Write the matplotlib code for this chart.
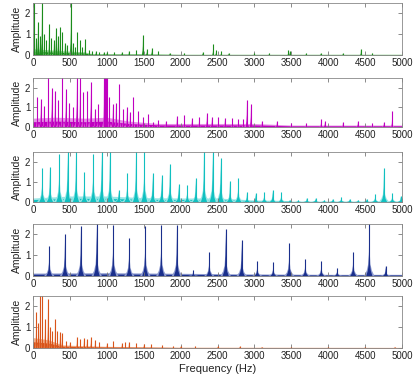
import numpy as np
import matplotlib
matplotlib.use("Agg")
import matplotlib.pyplot as plt

plt.rcParams['font.family'] = ['Liberation Sans', 'DejaVu Sans']

# ---------------- data ----------------
freq_ticks = [0, 500, 1000, 1500, 2000, 2500, 3000, 3500, 4000, 4500, 5000]
amp_ticks = [0, 1, 2]

green_peak_f = [20, 40, 63, 90, 117, 150, 180, 217, 250, 280, 310, 335, 366, 395, 430, 460, 510, 540, 570, 600,
                640, 670, 705, 760, 800, 850, 900, 960, 1000, 1100, 1200, 1300, 1400, 1486, 1540, 1608, 1700,
                1850, 2050, 2300, 2440, 2480, 2550, 2650, 3000, 3200, 3460, 3480, 3700, 3900, 4200, 4444, 4600]
green_peak_a = [2.6, 0.8, 1.6, 0.9, 2.6, 1.0, 0.7, 1.5, 0.8, 0.7, 1.3, 0.9, 1.35, 1.1, 0.6, 0.5, 2.6, 0.6, 0.4, 1.1,
                0.7, 0.4, 0.75, 0.25, 0.2, 0.2, 0.15, 0.15, 0.15, 0.15, 0.15, 0.2, 0.25, 0.95, 0.3, 0.35, 0.2,
                0.12, 0.12, 0.15, 0.55, 0.25, 0.2, 0.12, 0.12, 0.1, 0.25, 0.2, 0.08, 0.1, 0.08, 0.3, 0.12]
green_floor_f = [0, 200, 400, 700, 800, 1500, 2000, 3000, 5000]
green_floor_a = [0.3, 0.25, 0.2, 0.15, 0.06, 0.06, 0.04, 0.04, 0.04]

magenta_peak_f = [59, 104, 149, 208, 253, 298, 343, 397, 442, 488, 546, 591, 637, 682, 736, 781, 840, 885,
                  962, 975, 988, 998, 1034, 1079, 1124, 1169, 1223, 1268, 1314, 1359, 1427, 1495, 1562, 1630,
                  1700, 1800, 1950, 2050, 2150, 2250, 2353, 2420, 2510, 2600, 2700, 2780, 2850, 2895, 2950,
                  3100, 3300, 3500, 3700, 3903, 3950, 4200, 4400, 4600, 4750, 4866]
magenta_peak_a = [1.55, 1.45, 1.05, 2.6, 2.0, 1.85, 1.4, 2.6, 1.95, 1.2, 1.0, 2.6, 2.6, 1.8, 1.85, 2.3, 0.9, 1.15,
                  2.6, 2.6, 2.6, 2.6, 1.55, 1.15, 1.2, 2.2, 0.9, 1.0, 0.75, 1.55, 0.8, 0.5, 0.65, 0.25,
                  0.35, 0.3, 0.55, 0.6, 0.45, 0.5, 0.7, 0.5, 0.5, 0.45, 0.45, 0.4, 0.4, 1.4, 1.15,
                  0.3, 0.3, 0.2, 0.2, 0.4, 0.3, 0.25, 0.3, 0.2, 0.25, 0.8]
magenta_floor_f = [0, 300, 700, 1000, 1300, 1700, 2500, 3000, 3500, 5000]
magenta_floor_a = [0.45, 0.5, 0.45, 0.5, 0.3, 0.18, 0.18, 0.18, 0.1, 0.1]

cyan_peak_f = [126, 230, 357, 470, 583, 696, 817, 931, 1043, 1160, 1278, 1396, 1509, 1622, 1744, 1856, 1974,
               2091, 2205, 2317, 2435, 2543, 2669, 2782, 2900, 3018, 3134, 3248, 3365, 3480, 3595, 3711, 3828,
               3945, 4061, 4177, 4290, 4405, 4520, 4638, 4756, 4870, 4984]
cyan_peak_a = [1.7, 1.75, 2.4, 2.6, 2.6, 1.5, 2.4, 2.6, 2.6, 0.6, 1.45, 2.6, 2.6, 1.45, 1.35, 1.9, 0.9,
               0.85, 1.2, 2.6, 2.6, 2.2, 1.05, 1.2, 0.5, 0.45, 0.5, 0.6, 0.5, 0.1, 0.1, 0.2, 0.2,
               0.1, 0.15, 0.25, 0.15, 0.1, 0.15, 0.4, 1.7, 0.45, 0.3]
cyan_floor_f = [0, 500, 1000, 1500, 2000, 2500, 3000, 3400, 3500, 5000]
cyan_floor_a = [0.2, 0.3, 0.3, 0.22, 0.2, 0.2, 0.1, 0.08, 0.04, 0.04]

navy_peak_f = [221, 434, 650, 863, 1088, 1305, 1522, 1739, 1951, 2172, 2389, 2611, 2828, 3040, 3256, 3473, 3690,
               3907, 4123, 4340, 4557, 4779]
navy_peak_a = [1.45, 2.04, 2.4, 2.6, 2.45, 1.85, 2.4, 2.45, 2.45, 0.3, 1.13, 2.28, 1.73, 0.7, 0.65, 1.6, 0.82,
               0.7, 0.4, 1.17, 2.6, 0.5]
navy_floor_f = [0, 1000, 2000, 3000, 4000, 5000]
navy_floor_a = [0.14, 0.16, 0.13, 0.1, 0.08, 0.08]

orange_peak_f = [41, 70, 95, 126, 160, 199, 230, 260, 298, 330, 360, 389, 450, 500, 592, 640, 690, 730, 782,
                 840, 900, 1000, 1088, 1200, 1250, 1300, 1400, 1500, 1600, 1750, 1900, 2000, 2200, 2500, 2800,
                 3100, 3500, 4000, 4500, 4900]
orange_peak_a = [1.75, 1.2, 2.6, 2.6, 1.4, 2.35, 1.0, 0.8, 1.4, 0.8, 0.75, 0.7, 0.35, 0.3, 0.55, 0.45, 0.5, 0.45, 0.55,
                 0.4, 0.3, 0.25, 0.35, 0.25, 0.28, 0.3, 0.22, 0.2, 0.18, 0.15, 0.12, 0.12, 0.1, 0.08, 0.08,
                 0.06, 0.06, 0.06, 0.06, 0.06]
orange_floor_f = [0, 200, 400, 600, 1000, 1500, 2000, 5000]
orange_floor_a = [0.5, 0.4, 0.15, 0.12, 0.08, 0.06, 0.04, 0.03]

panels = [
    (green_peak_f, green_peak_a, green_floor_f, green_floor_a, '#1c8c1c', '#94d494', 16),
    (magenta_peak_f, magenta_peak_a, magenta_floor_f, magenta_floor_a, '#c000c0', '#e590e5', 22),
    (cyan_peak_f, cyan_peak_a, cyan_floor_f, cyan_floor_a, '#10c0c0', '#98e6e6', 70),
    (navy_peak_f, navy_peak_a, navy_floor_f, navy_floor_a, '#1a2f8c', '#8e9bd0', 70),
    (orange_peak_f, orange_peak_a, orange_floor_f, orange_floor_a, '#d9541a', '#f2ad88', 12),
]

# peak outline (relative offsets / relative heights) - styling only
shape_dx = np.array([-1, -0.5, -0.22, -0.08, -0.02, 0, 0.02, 0.08, 0.22, 0.5, 1])
shape_dy = np.array([0, 0.1, 0.22, 0.45, 0.8, 1, 0.8, 0.45, 0.22, 0.1, 0])

tops = [3, 78, 152, 224, 296]
bottoms = [55, 127, 202, 276, 348]
W, H = 415, 378

fig = plt.figure(figsize=(W / 100, H / 100), dpi=100)
for i, (pf, pa, ff, fa, dark, light, w) in enumerate(panels):
    t, b = tops[i], bottoms[i]
    ax = fig.add_axes([33 / W, 1 - b / H, 369 / W, (b - t) / H])
    ax.fill_between(ff, 0, fa, color=light, lw=0)
    ax.fill_between(ff, 0, np.array(fa) * 0.6, color=dark, lw=0)
    for f, a in zip(pf, pa):
        ax.fill(f + shape_dx * w, shape_dy * a, color=light, lw=0)
        ax.fill(f + shape_dx * w * 0.6, shape_dy * a * 0.92, color=dark, lw=0)
    ax.vlines(pf, 0, pa, color=dark, lw=0.8)
    ax.set_xlim(0, 5000)
    ax.set_ylim(0, 2.5)
    ax.set_xticks(freq_ticks)
    ax.set_yticks(amp_ticks)
    ax.tick_params(direction='in', length=3, width=0.6, color='#777777', labelsize=7,
                   top=True, right=True, pad=2, labelcolor='#222222')
    for s in ax.spines.values():
        s.set_color('#888888')
        s.set_linewidth(0.6)
    ax.set_ylabel('Amplitude', fontsize=7.5, labelpad=2, color='#222222')
    if i == 4:
        ax.set_xlabel('Frequency (Hz)', fontsize=8, labelpad=2, color='#222222')

fig.savefig('out.png', dpi=100)
